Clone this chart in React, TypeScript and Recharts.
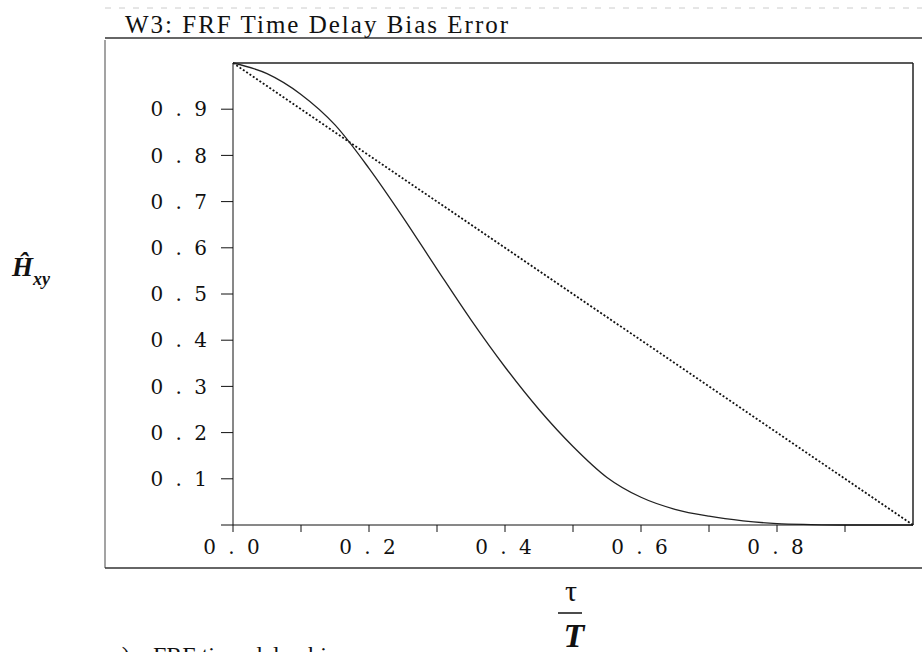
import { LineChart, Line, XAxis, YAxis, ReferenceLine } from "recharts";

// tau / T sample positions
const tauRatio = [0, 0.05, 0.1, 0.15, 0.2, 0.25, 0.3, 0.35, 0.4, 0.45, 0.5, 0.55, 0.6, 0.65, 0.7, 0.75, 0.8, 0.85, 0.9, 0.95, 1.0];
// windowed (W3) bias curve
const windowedBias = [1.0, 0.977, 0.932, 0.866, 0.772, 0.666, 0.554, 0.444, 0.342, 0.25, 0.17, 0.103, 0.06, 0.034, 0.019, 0.009, 0.003, 0.001, 0, 0, 0];
// straight (rectangular) bias line
const linearBias = [1.0, 0.95, 0.9, 0.85, 0.8, 0.75, 0.7, 0.65, 0.6, 0.55, 0.5, 0.45, 0.4, 0.35, 0.3, 0.25, 0.2, 0.15, 0.1, 0.05, 0];

const xTicks = [0, 0.1, 0.2, 0.3, 0.4, 0.5, 0.6, 0.7, 0.8, 0.9];
const xLabelled = [0, 0.2, 0.4, 0.6, 0.8];
const yTicks = [0, 0.1, 0.2, 0.3, 0.4, 0.5, 0.6, 0.7, 0.8, 0.9];

const title = "W3: FRF Time Delay Bias Error";
const caption = "FRF time delay bias error";

const SERIF = "'Liberation Serif', 'Times New Roman', serif";
const WIDE_SERIF = "'DejaVu Serif', serif";

const data = tauRatio.map((t, i) => ({ tau: t, w3: windowedBias[i], rect: linearBias[i] }));

const spaced = (v: number) => v.toFixed(1).split("").join(" ");

const tickStyle = { fill: "#111", fontSize: 20, fontFamily: WIDE_SERIF, letterSpacing: 3 };

export default function App() {
  return (
    <div style={{ position: "absolute", left: 0, top: 0, width: 922, height: 652, overflow: "hidden", background: "#fff" }}>
      <LineChart width={922} height={652} data={data} margin={{ top: 63, right: 9, left: 173, bottom: 97 }}>
        <XAxis
          dataKey="tau"
          type="number"
          domain={[0, 1]}
          ticks={xTicks}
          interval={0}
          tickFormatter={(v: number) => (xLabelled.some((l) => Math.abs(l - v) < 1e-6) ? spaced(v) : "")}
          tickSize={7}
          tickMargin={8}
          stroke="#111"
          tick={tickStyle}
          height={30}
        />
        <YAxis
          type="number"
          domain={[0, 1]}
          ticks={yTicks}
          interval={0}
          tickFormatter={(v: number) => (v === 0 ? "" : spaced(v))}
          tickSize={12}
          tickMargin={11}
          stroke="#111"
          tick={tickStyle}
          width={60}
        />
        <ReferenceLine y={1} stroke="#222" strokeWidth={1.3} />
        <ReferenceLine x={1} stroke="#222" strokeWidth={1.5} />
        <Line
          type="linear"
          dataKey="rect"
          stroke="#111"
          strokeWidth={1.8}
          strokeDasharray="2 2"
          dot={false}
          isAnimationActive={false}
        />
        <Line
          type="monotone"
          dataKey="w3"
          stroke="#222"
          strokeWidth={1.3}
          dot={false}
          isAnimationActive={false}
        />
      </LineChart>

      <svg width={922} height={652} style={{ position: "absolute", left: 0, top: 0, pointerEvents: "none" }}>
        {/* scanned frame around the figure */}
        <line x1={105} y1={8} x2={922} y2={8} stroke="#ccc" strokeWidth={1} strokeDasharray="6 8" />
        <line x1={105} y1={38} x2={922} y2={38} stroke="#333" strokeWidth={1.5} />
        <line x1={105} y1={40} x2={105} y2={568} stroke="#666" strokeWidth={1.2} />
        <line x1={105} y1={568} x2={922} y2={568} stroke="#333" strokeWidth={1.5} />
        <text x={125} y={33} fontFamily={SERIF} fontSize={25} letterSpacing={2} fill="#111">
          {title}
        </text>

        {/* y label: H hat sub xy */}
        <text x={12} y={276} fontFamily={SERIF} fontSize={27} fontStyle="italic" fontWeight="bold" fill="#111">
          Ĥ
        </text>
        <text x={33} y={285} fontFamily={SERIF} fontSize={18} fontStyle="italic" fontWeight="bold" fill="#111">
          xy
        </text>

        {/* x label: tau over T */}
        <text x={571} y={601} textAnchor="middle" fontFamily={SERIF} fontSize={30} fill="#111">
          τ
        </text>
        <line x1={558} y1={613} x2={582} y2={613} stroke="#111" strokeWidth={1.5} />
        <text x={574} y={647} textAnchor="middle" fontFamily={SERIF} fontSize={34} fontStyle="italic" fontWeight="bold" fill="#111">
          T
        </text>

        {/* caption, cut by the bottom edge as in the scan */}
        <text x={111} y={663} fontFamily={SERIF} fontSize={24} fill="#111">
          a)
        </text>
        <text x={153} y={663} fontFamily={SERIF} fontSize={24} fill="#111">
          {caption}
        </text>
      </svg>
    </div>
  );
}
